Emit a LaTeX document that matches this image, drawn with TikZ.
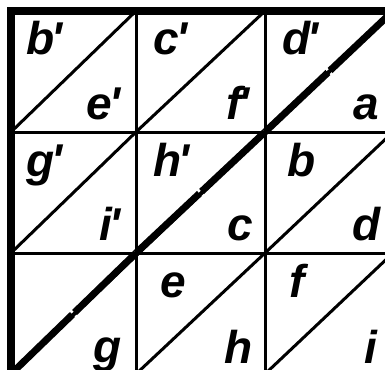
\documentclass[tikz,border=0pt]{standalone}
\usepackage{fontspec}
\setmainfont{Liberation Sans}
\usetikzlibrary{calc}
\tikzset{
  gridline/.style={line width=3pt},
  thickdiag/.style={line width=7pt},
  framebox/.style={line width=8pt, line join=miter},
  lab/.style={font=\fontsize{46}{46}\selectfont\bfseries\itshape, inner sep=0pt},
  ul/.style={lab, anchor=base west},
  lr/.style={lab, anchor=base east},
}
\newcommand{\pr}{\kern-2.5pt\textquotesingle}
\begin{document}
\begin{tikzpicture}[x=1pt,y=-1pt]
\useasboundingbox (0,0) rectangle (385,369);
\clip (0,0) rectangle (385,369);
\foreach \c/\x in {0/11,1/136,2/265,3/393}{
  \foreach \r/\y in {0/11,1/132,2/253,3/374}{
    \coordinate (p\c\r) at (\x,\y);
  }
}
% inner grid
\draw[gridline] (p10) -- (p13);
\draw[gridline] (p20) -- (p23);
\draw[gridline] (p01) -- (p31);
\draw[gridline] (p02) -- (p32);
% thin diagonals
\draw[gridline] (p01) -- (p10);
\draw[gridline] (p11) -- (p20);
\draw[gridline] (p02) -- (p11);
\draw[gridline] (p22) -- (p31);
\draw[gridline] (p13) -- (p22);
\draw[gridline] (p23) -- (p32);
% main thick diagonal with small notches at the cell middles
\draw[line width=4pt] (p03) -- (p30);
\foreach \a/\b in {p03/p12, p12/p21, p21/p30}{
  \coordinate (m) at ($(\a)!0.5!(\b)$);
  \draw[thickdiag, shorten >=1.5pt] (\a) -- (m);
  \draw[thickdiag, shorten <=1.5pt] (m) -- (\b);
}
% outer frame
\draw[framebox] (p00) rectangle (p33);
% labels
\node[ul] (ub1) at (26,55) {b\pr};
\node[ul] (uc1) at (153,55) {c\pr};
\node[ul] (ud1) at (282,55) {d\pr};
\node[lr] (le1) at (121,119) {e\pr};
\node[lr] (lf1) at (250,119) {f\pr};
\node[lr] (la)  at (379,119) {a};
\node[ul] (ug1) at (26,176) {g\pr};
\node[ul] (uh1) at (153,176) {h\pr};
\node[ul] (ub)  at (287,176) {b};
\node[lr] (li1) at (121,240) {i\pr};
\node[lr] (lc)  at (253,240) {c};
\node[lr] (ld)  at (381,240) {d};
\node[ul] (ue)  at (160,297) {e};
\node[ul] (uf)  at (289,297) {f};
\node[lr] (lg)  at (122,362) {g};
\node[lr] (lh)  at (253,363) {h};
\node[lr] (li)  at (377,363) {i};
\end{tikzpicture}
\end{document}
